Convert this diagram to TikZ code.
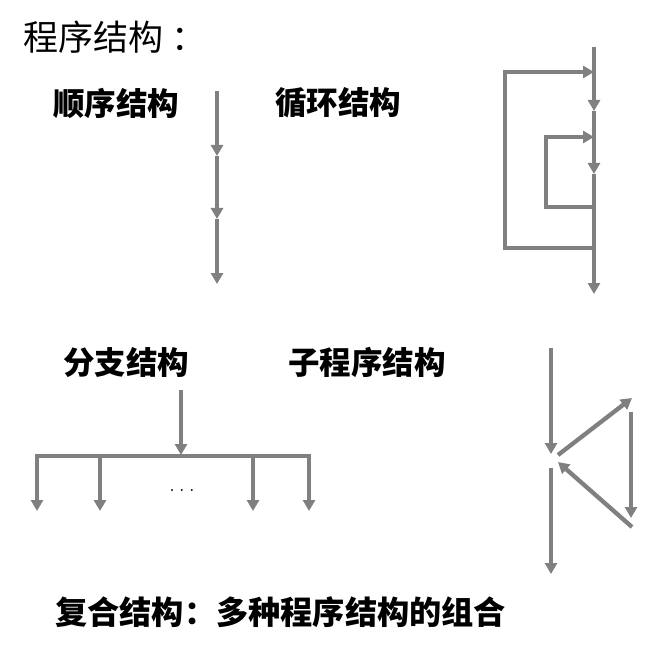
\documentclass[tikz,border=0pt]{standalone}
\usepackage{fontspec}
\newfontfamily\cjk{Noto Sans CJK SC}
\usetikzlibrary{arrows.meta}
\definecolor{lg}{RGB}{128,128,128}
\tikzset{
  ln/.style={draw=lg, line width=4.3pt},
  arr/.style={ln, -{Triangle[width=12pt,length=11pt]}},
  lbl/.style={inner sep=0pt, font=\cjk\bfseries\fontsize{31.5}{31.5}\selectfont, anchor=west},
}
\begin{document}
\begin{tikzpicture}[x=1pt,y=-1pt]
\useasboundingbox[fill=white] (0,0) rectangle (644,652);
% texts
\node[inner sep=0pt, anchor=west, font=\cjk\fontsize{35}{35}\selectfont] (title) at (23,37) {程序结构\hspace{8pt}：};
\node[lbl] (seq) at (53,103) {顺序结构};
\node[lbl] (loop) at (275,103) {循环结构};
\node[lbl] (br) at (63,362) {分支结构};
\node[lbl] (sub) at (288,362) {子程序结构};
\node[lbl, font=\cjk\bfseries\fontsize{32.2}{32.2}\selectfont] (comp) at (55,612) {复合结构：多种程序结构的组合};
% sequence
\coordinate (s0) at (217,91);
\coordinate (s1) at (217,156);
\coordinate (s2) at (217,219);
\coordinate (s3) at (217,284);
\draw[arr] (s0) -- (s1);
\draw[arr] (s1) -- (s2);
\draw[arr] (s2) -- (s3);
% loop
\coordinate (l0) at (594,47);
\coordinate (l1) at (594,72);
\coordinate (l2) at (594,111);
\coordinate (l3) at (594,137);
\coordinate (l4) at (594,174);
\coordinate (l5) at (594,207);
\coordinate (l6) at (594,248);
\coordinate (l7) at (594,294);
\coordinate (o1) at (505,248);
\coordinate (o2) at (505,72);
\coordinate (i1) at (546,207);
\coordinate (i2) at (546,137);
\draw[arr] (l0) -- (l2);
\draw[arr] (l2) -- (l4);
\draw[arr] (l4) -- (l7);
\draw[arr] (l6) -- (o1) -- (o2) -- (l1);
\draw[arr] (l5) -- (i1) -- (i2) -- (l3);
% branch
\coordinate (b0) at (181,390);
\coordinate (b1) at (181,455);
\coordinate (h0) at (37,456);
\coordinate (h1) at (100,456);
\coordinate (h2) at (253,456);
\coordinate (h3) at (309,456);
\coordinate (t0) at (37,511);
\coordinate (t1) at (100,511);
\coordinate (t2) at (253,511);
\coordinate (t3) at (309,511);
\draw[arr] (b0) -- (b1);
\draw[ln, {Triangle[width=12pt,length=11pt]}-{Triangle[width=12pt,length=11pt]}] (t0) -- (h0) -- (h3) -- (t3);
\draw[arr] (h1) -- (t1);
\draw[arr] (h2) -- (t2);
\node[inner sep=0pt, font=\fontsize{24}{24}\selectfont] (dots) at (182,491) {.\hspace{4pt}.\hspace{4pt}.};
% subroutine
\coordinate (r0) at (551,348);
\coordinate (r1) at (551,454);
\coordinate (r2) at (551,468);
\coordinate (r3) at (551,574);
\coordinate (d0) at (558,455);
\coordinate (d1) at (632,398);
\coordinate (r4) at (631,412);
\coordinate (r5) at (631,518);
\coordinate (d2) at (632,527);
\coordinate (d3) at (558,462);
\draw[arr] (r0) -- (r1);
\draw[arr] (r2) -- (r3);
\draw[arr] (d0) -- (d1);
\draw[arr] (r4) -- (r5);
\draw[arr] (d2) -- (d3);
\end{tikzpicture}
\end{document}
